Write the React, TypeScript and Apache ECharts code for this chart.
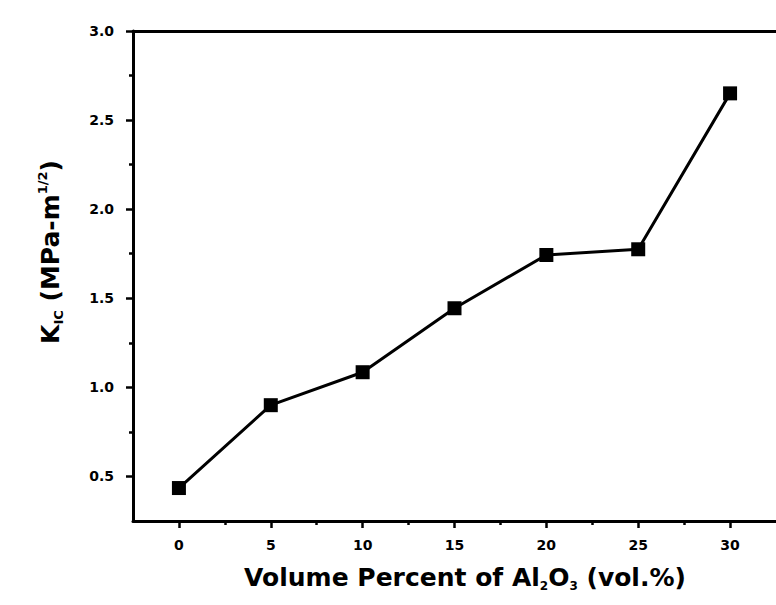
import React, { useEffect, useRef } from "react";
import * as echarts from "echarts";

const volumePercent = [0, 5, 10, 15, 20, 25, 30];
const kic = [0.435, 0.9, 1.085, 1.444, 1.743, 1.775, 2.65];
const xMajorTicks = [0, 5, 10, 15, 20, 25, 30];
const xMinorTicks = [2.5, 7.5, 12.5, 17.5, 22.5, 27.5];
const yMajorTicks = [0.5, 1.0, 1.5, 2.0, 2.5, 3.0];
const yMinorTicks = [0.75, 1.25, 1.75, 2.25, 2.75];

const FONT = "DejaVu Sans";

export default function App() {
  const ref = useRef<HTMLDivElement>(null);
  useEffect(() => {
    if (!ref.current) return;
    const chart = echarts.init(ref.current, null, { renderer: "svg" });
    const axisLineStyle = { color: "#000", width: 3 };
    const tickLine = { color: "#000", width: 2.5 };
    const labelStyle = { color: "#000", fontFamily: FONT, fontWeight: "bold" as const, fontSize: 14 };
    chart.setOption({
      animation: false,
      backgroundColor: "#fff",
      grid: { left: 133, right: -14, top: 31, bottom: 84 },
      xAxis: [
        {
          type: "value",
          min: -2.5,
          max: 32.5,
          position: "bottom",
          splitLine: { show: false },
          axisLine: { show: true, onZero: false, lineStyle: axisLineStyle },
          axisTick: { show: true, customValues: xMajorTicks, length: 7, lineStyle: tickLine },
          axisLabel: { ...labelStyle, customValues: xMajorTicks, margin: 17 },
        },
        {
          type: "value",
          min: -2.5,
          max: 32.5,
          position: "bottom",
          splitLine: { show: false },
          axisLine: { show: false, onZero: false },
          axisTick: { show: true, customValues: xMinorTicks, length: 4, lineStyle: tickLine },
          axisLabel: { show: false },
        },
        {
          type: "value",
          min: -2.5,
          max: 32.5,
          position: "top",
          splitLine: { show: false },
          axisLine: { show: true, onZero: false, lineStyle: axisLineStyle },
          axisTick: { show: false },
          axisLabel: { show: false },
        },
      ],
      yAxis: [
        {
          type: "value",
          min: 0.25,
          max: 3.0,
          position: "left",
          splitLine: { show: false },
          axisLine: { show: true, onZero: false, lineStyle: axisLineStyle },
          axisTick: { show: true, customValues: yMajorTicks, length: 7, lineStyle: tickLine },
          axisLabel: {
            ...labelStyle,
            customValues: yMajorTicks,
            margin: 19,
            formatter: (v: number) => v.toFixed(1),
          },
        },
        {
          type: "value",
          min: 0.25,
          max: 3.0,
          position: "left",
          splitLine: { show: false },
          axisLine: { show: false, onZero: false },
          axisTick: { show: true, customValues: yMinorTicks, length: 4, lineStyle: tickLine },
          axisLabel: { show: false },
        },
      ],
      series: [
        {
          type: "line",
          xAxisIndex: 0,
          yAxisIndex: 0,
          data: volumePercent.map((x, i) => [x, kic[i]]),
          symbol: "rect",
          symbolSize: 14,
          lineStyle: { color: "#000", width: 3 },
          itemStyle: { color: "#000" },
        },
      ],
      graphic: [
        {
          type: "text",
          x: 465,
          y: 577,
          style: {
            text: "Volume Percent of Al{sub|2}O{sub|3} (vol.%)",
            fontFamily: FONT,
            fontWeight: "bold",
            fontSize: 25,
            fill: "#000",
            align: "center",
            verticalAlign: "middle",
            rich: {
              sub: { fontFamily: FONT, fontWeight: "bold", fontSize: 12, padding: [18, 0, 0, 0] },
            },
          },
        },
        {
          type: "text",
          x: 50,
          y: 252,
          rotation: Math.PI / 2,
          style: {
            text: "K{sub|IC} (MPa-m{sup|1/2})",
            fontFamily: FONT,
            fontWeight: "bold",
            fontSize: 25,
            fill: "#000",
            align: "center",
            verticalAlign: "middle",
            rich: {
              sub: { fontFamily: FONT, fontWeight: "bold", fontSize: 13, padding: [16, 0, 0, 0] },
              sup: { fontFamily: FONT, fontWeight: "bold", fontSize: 13, padding: [0, 0, 16, 0] },
            },
          },
        },
      ],
    });
    return () => chart.dispose();
  }, []);
  return <div ref={ref} style={{ width: 776, height: 605, position: "absolute", left: 0, top: 0 }} />;
}
